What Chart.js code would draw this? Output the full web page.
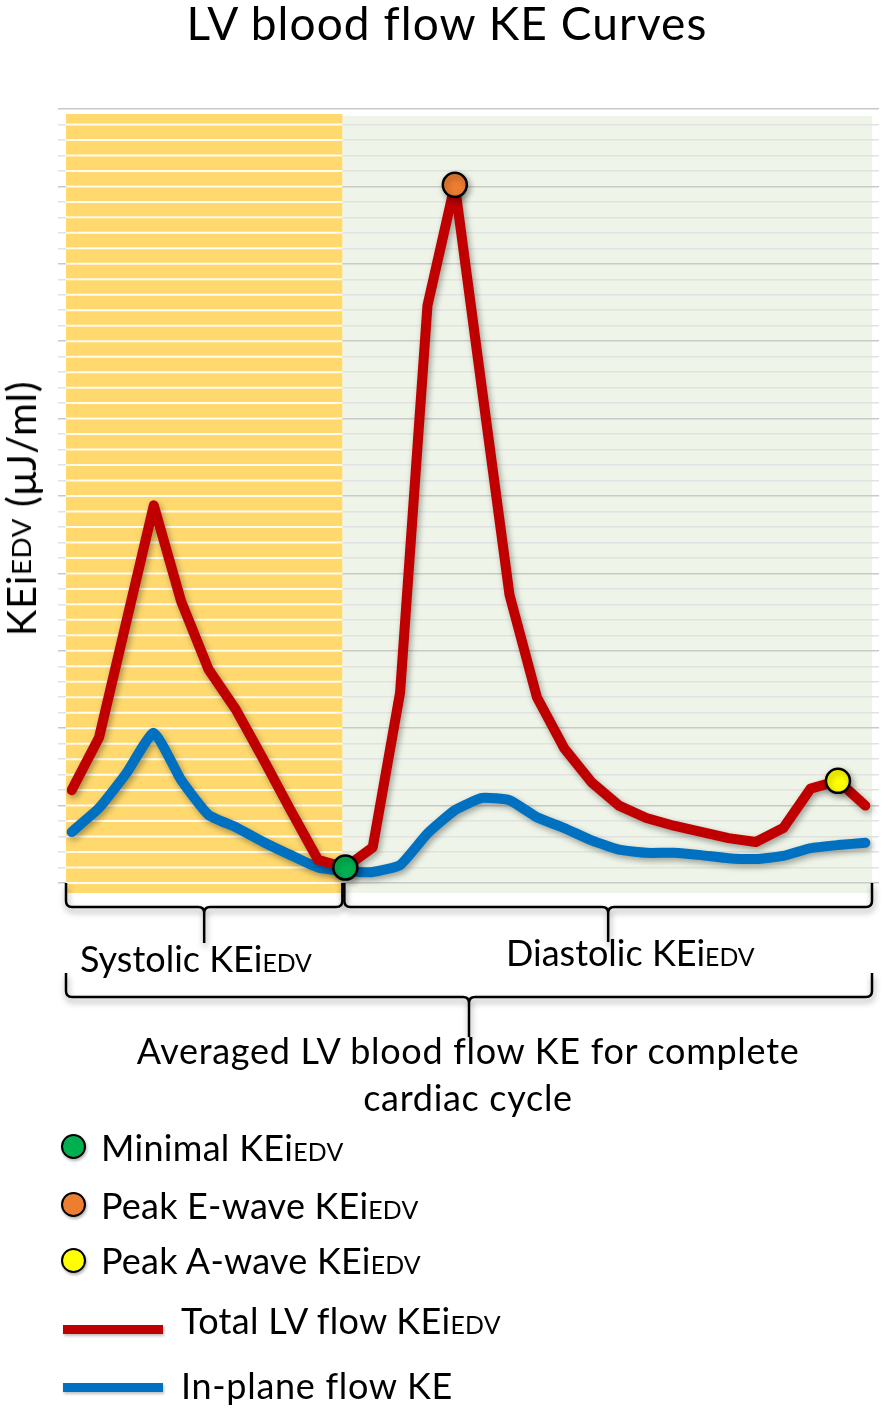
<!DOCTYPE html>
<html lang="en">

<head>
    <meta charset="UTF-8">
    <title>LV blood flow KE Curves</title>
    <script src="https://cdn.jsdelivr.net/npm/chart.js"></script>
    <style>
        body {
            margin: 0;
            background: #fff;
            font-family: Lato, "Open Sans", sans-serif;
            color: #000;
        }

        .page {
            position: relative;
            width: 894px;
            height: 1410px;
            overflow: hidden;
        }

        .page canvas {
            position: absolute;
            left: 0;
            top: 0;
        }

        .txt {
            position: absolute;
            white-space: nowrap;
            line-height: 1;
            font-size: 36px;
        }

        .sub {
            font-size: 0.69em;
        }

        #titulo {
            left: 0;
            width: 894px;
            text-align: center;
            font-size: 46px;
            letter-spacing: 1.1px;
        }

        #ejeY {
            writing-mode: vertical-rl;
            transform: rotate(180deg);
            font-size: 40px;
            letter-spacing: 0.7px;
        }

        .centro {
            text-align: center;
            letter-spacing: 0.7px;
        }

        .dot {
            position: absolute;
            width: 21px;
            height: 21px;
            border: 2.5px solid #000;
            border-radius: 50%;
            box-shadow: 1px 2px 3px rgba(0, 0, 0, 0.3);
        }

        .raya {
            position: absolute;
            width: 100px;
            height: 9px;
            box-shadow: 1px 2px 3px rgba(0, 0, 0, 0.25);
        }
    </style>
</head>

<body>
    <div class="page">
        <canvas id="grafico" width="894" height="1410"></canvas>

        <div class="txt" id="titulo" style="top:0px;">LV blood flow KE Curves</div>
        <div class="txt" id="ejeY" style="left:1px; top:381px;">KEi<span class="sub">EDV</span> (μJ/ml)</div>

        <div class="txt" style="left:80px; top:940px;">Systolic KEi<span class="sub">EDV</span></div>
        <div class="txt" style="left:506px; top:934px;">Diastolic KEi<span class="sub">EDV</span></div>
        <div class="txt centro" style="left:68px; width:800px; top:1032px;">Averaged LV blood flow KE for complete</div>
        <div class="txt centro" style="left:68px; width:800px; top:1079px;">cardiac cycle</div>

        <div class="dot" style="left:61px; top:1134px; background:#00b050;"></div>
        <div class="txt" style="left:101px; top:1129px; letter-spacing:0.3px;">Minimal KEi<span class="sub">EDV</span></div>
        <div class="dot" style="left:61px; top:1192px; background:#ed7d31;"></div>
        <div class="txt" style="left:101px; top:1187px; letter-spacing:0.2px;">Peak E-wave KEi<span class="sub">EDV</span></div>
        <div class="dot" style="left:61px; top:1248px; background:#ffff00;"></div>
        <div class="txt" style="left:101px; top:1242px; letter-spacing:0.2px;">Peak A-wave KEi<span class="sub">EDV</span></div>

        <div class="raya" style="left:63px; top:1325px; background:#c00000;"></div>
        <div class="txt" style="left:181px; top:1302px; letter-spacing:0.3px;">Total LV flow KEi<span class="sub">EDV</span></div>
        <div class="raya" style="left:63px; top:1383px; background:#0070c0;"></div>
        <div class="txt" style="left:181px; top:1367px; letter-spacing:0.7px;">In-plane flow KE</div>
    </div>

    <script>
        // cardiac phases (frames over one cycle)
        const frames = [1, 2, 3, 4, 5, 6, 7, 8, 9, 10, 11, 12, 13, 14, 15,
            16, 17, 18, 19, 20, 21, 22, 23, 24, 25, 26, 27, 28, 29, 30];

        // total LV flow KEiEDV (grid units)
        const keTotal = [6.0, 9.4, 16.9, 24.4, 18.2, 13.8, 11.2, 8.0, 4.7, 1.5,
            1.0, 2.3, 12.3, 37.3, 45.1, 31.8, 18.6, 12.0, 8.7, 6.5,
            5.0, 4.2, 3.7, 3.3, 2.9, 2.65, 3.55, 6.1, 6.6, 5.0];

        // in-plane flow KE
        const keInPlane = [3.3, 4.85, 7.1, 9.7, 6.65, 4.4, 3.6, 2.65, 1.8, 1.0,
            0.78, 0.71, 1.16, 3.2, 4.7, 5.5, 5.35, 4.25, 3.55, 2.75,
            2.15, 1.95, 1.95, 1.8, 1.6, 1.55, 1.75, 2.25, 2.45, 2.6];

        // marked events: minimal, peak E-wave, peak A-wave
        const eventIndex = [10, 14, 28];
        const eventColors = ["#00b050", "#ed7d31", "#ffff00"];

        const systoleEnd = 10; // last systolic frame index

        const yMin = 0, yMax = 50;

        const marcadores = frames.map((f, i) => {
            const k = eventIndex.indexOf(i);
            return k >= 0 ? keTotal[i] : null;
        });
        const coloresMarcador = frames.map((f, i) => {
            const k = eventIndex.indexOf(i);
            return k >= 0 ? eventColors[k] : "transparent";
        });

        function llave(ctx, x1, x2, yTop, yLine, yTip, r) {
            const xm = (x1 + x2) / 2;
            ctx.beginPath();
            ctx.moveTo(x1, yTop);
            ctx.lineTo(x1, yLine - r);
            ctx.quadraticCurveTo(x1, yLine, x1 + r, yLine);
            ctx.lineTo(xm - r, yLine);
            ctx.quadraticCurveTo(xm, yLine, xm, yLine + r);
            ctx.lineTo(xm, yTip);
            ctx.moveTo(xm, yLine + r);
            ctx.quadraticCurveTo(xm, yLine, xm + r, yLine);
            ctx.lineTo(x2 - r, yLine);
            ctx.quadraticCurveTo(x2, yLine, x2, yLine - r);
            ctx.lineTo(x2, yTop);
            ctx.stroke();
        }

        const fondos = {
            id: 'fondos',
            beforeDraw(chart) {
                const { ctx, chartArea, scales } = chart;
                const xCorte = scales.x.getPixelForValue(systoleEnd) - 3;
                const top = scales.y.getPixelForValue(yMax) + 6;
                const bottom = scales.y.getPixelForValue(yMin) + 10;
                ctx.save();
                ctx.fillStyle = "#eef4e7";
                ctx.fillRect(xCorte, top + 1, chartArea.right - 7 - xCorte, bottom - top - 1);
                ctx.restore();
            },
            beforeDatasetsDraw(chart) {
                const { ctx, chartArea, scales } = chart;
                const x0 = chartArea.left + 8;
                const xCorte = scales.x.getPixelForValue(systoleEnd) - 3;
                const top = scales.y.getPixelForValue(yMax) + 5;
                const bottom = scales.y.getPixelForValue(yMin) + 10;
                ctx.save();
                ctx.fillStyle = "#ffd96d";
                ctx.fillRect(x0, top, xCorte - x0, bottom - top);
                ctx.strokeStyle = "rgba(255,255,255,0.9)";
                ctx.lineWidth = 2;
                scales.y.ticks.forEach(t => {
                    const y = scales.y.getPixelForValue(t.value);
                    if (y < top) return;
                    ctx.beginPath();
                    ctx.moveTo(x0, y);
                    ctx.lineTo(xCorte, y);
                    ctx.stroke();
                });
                ctx.restore();
            },
            beforeDatasetDraw(chart) {
                const ctx = chart.ctx;
                ctx.save();
                ctx.shadowColor = "rgba(0,0,0,0.35)";
                ctx.shadowBlur = 6;
                ctx.shadowOffsetX = 2;
                ctx.shadowOffsetY = 3;
            },
            afterDatasetDraw(chart) {
                chart.ctx.restore();
            },
            afterDraw(chart) {
                const { ctx, chartArea, scales } = chart;
                const x0 = chartArea.left + 8;
                const x2 = chartArea.right - 7;
                const xCorte = scales.x.getPixelForValue(systoleEnd) - 2;
                const y0 = scales.y.getPixelForValue(yMin);
                ctx.save();
                ctx.strokeStyle = "#000";
                ctx.lineWidth = 2.5;
                ctx.shadowColor = "rgba(0,0,0,0.4)";
                ctx.shadowBlur = 6;
                ctx.shadowOffsetX = 1;
                ctx.shadowOffsetY = 4;
                llave(ctx, x0, xCorte - 1, y0, y0 + 24, y0 + 60, 6);
                llave(ctx, xCorte + 1, x2, y0, y0 + 24, y0 + 59, 6);
                llave(ctx, x0, x2, y0 + 90, y0 + 114, y0 + 154, 6);
                ctx.restore();
            }
        };

        new Chart(document.getElementById("grafico"), {
            type: 'line',
            data: {
                labels: frames,
                datasets: [{
                    label: 'Peak markers',
                    data: marcadores,
                    showLine: false,
                    pointRadius: 12,
                    pointBackgroundColor: coloresMarcador,
                    pointBorderColor: frames.map((f, i) => eventIndex.includes(i) ? "#000" : "transparent"),
                    pointBorderWidth: 2.5,
                    order: 1
                }, {
                    label: 'Total LV flow KEiEDV',
                    data: keTotal,
                    borderColor: "#c00000",
                    borderWidth: 10,
                    borderJoinStyle: 'round',
                    borderCapStyle: 'round',
                    pointRadius: 0,
                    tension: 0,
                    order: 2
                }, {
                    label: 'In-plane flow KE',
                    data: keInPlane,
                    borderColor: "#0070c0",
                    borderWidth: 10,
                    borderJoinStyle: 'round',
                    borderCapStyle: 'round',
                    pointRadius: 0,
                    tension: 0.15,
                    order: 3
                }]
            },
            options: {
                responsive: false,
                animation: false,
                clip: false,
                layout: {
                    padding: { left: 58, right: 15, top: 109, bottom: 527 }
                },
                plugins: {
                    legend: { display: false },
                    tooltip: { enabled: false }
                },
                scales: {
                    x: {
                        display: false,
                        offset: true
                    },
                    y: {
                        min: yMin,
                        max: yMax,
                        ticks: { display: false, stepSize: 1 },
                        border: { display: false },
                        grid: {
                            drawTicks: false,
                            lineWidth: 1.5,
                            color: ctx => ctx.tick.value % 5 === 0 ? "#c9c9c9" : "#e2e2e2"
                        }
                    }
                }
            },
            plugins: [fondos]
        });
    </script>
</body>

</html>
